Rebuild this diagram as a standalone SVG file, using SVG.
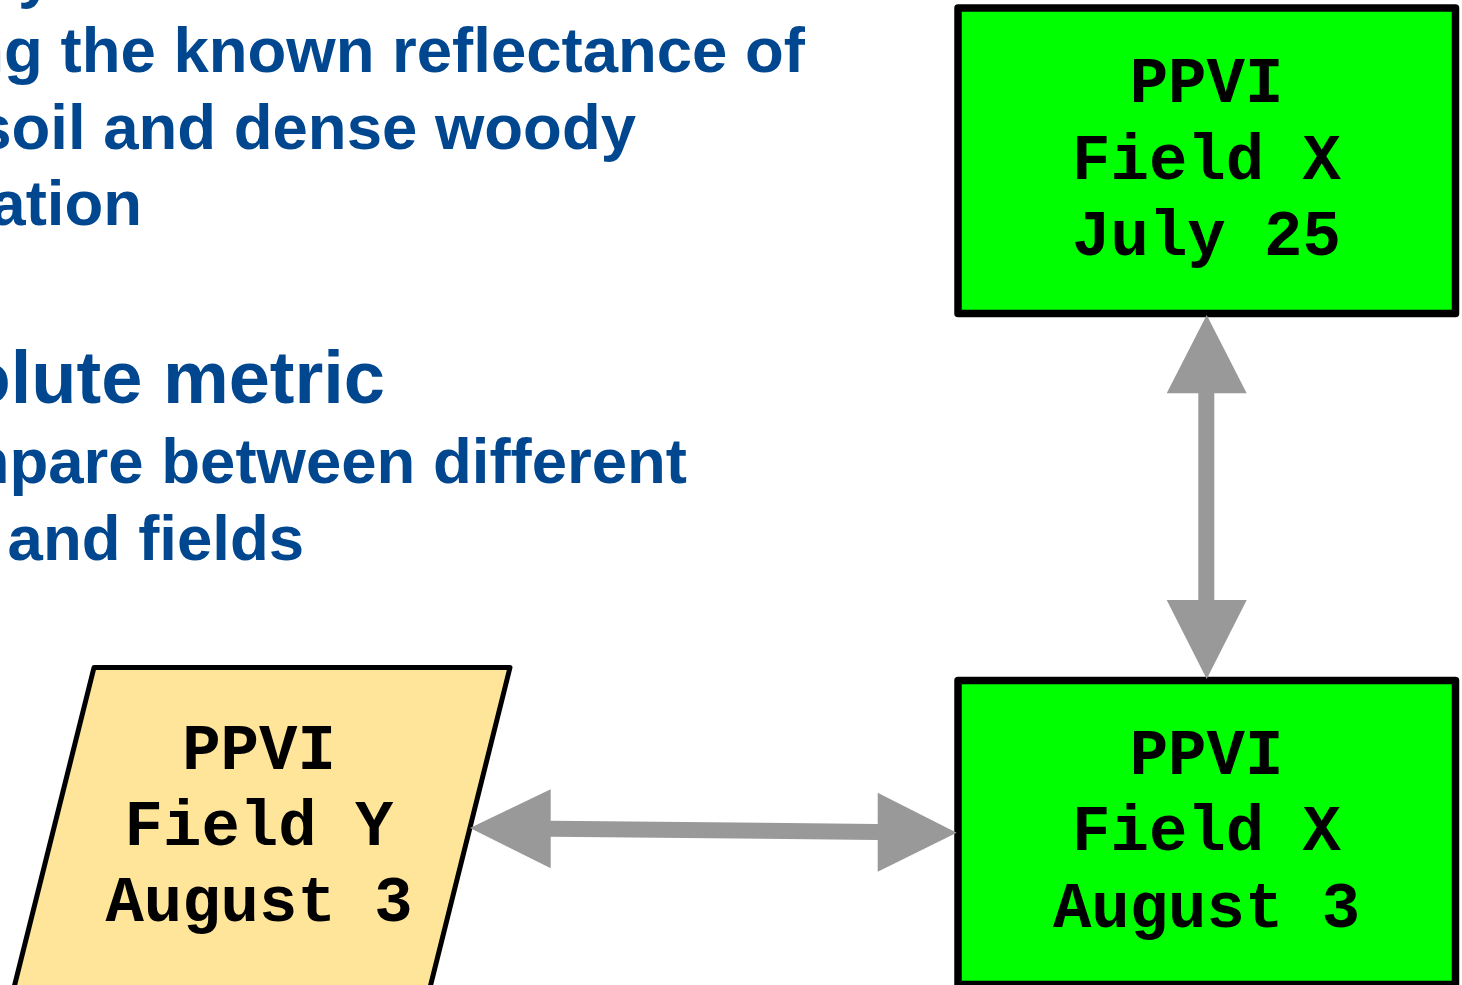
<svg xmlns="http://www.w3.org/2000/svg" width="1462" height="985" viewBox="0 0 1462 985">
  <style>
    .body { font-family: "Liberation Sans", Arial, sans-serif; font-weight: bold; fill: #00478F; }
    .lbl { font-family: "Liberation Mono", "Courier New", monospace; font-weight: bold; font-size: 64px; fill: #000000; text-anchor: middle; }
    .box { fill: #00FF00; stroke: #000000; stroke-width: 7.5; stroke-linejoin: round; }
    .para { fill: #FFE599; stroke: #000000; stroke-width: 5; stroke-linejoin: round; }
    .arrow { fill: #999999; stroke: none; }
  </style>
  <rect width="1462" height="985" fill="#FFFFFF"/>
  <g id="text-block">
    <text class="body" x="18" y="-4" font-size="63.5">y</text>
    <text class="body" x="805" y="72" font-size="63.5" text-anchor="end">ng the known reflectance of</text>
    <text class="body" x="636" y="148.5" font-size="63.5" text-anchor="end">soil and dense woody</text>
    <text class="body" x="142" y="225" font-size="63.5" text-anchor="end">ation</text>
    <text class="body" x="385" y="403" font-size="74" text-anchor="end">olute metric</text>
    <text class="body" x="687" y="483" font-size="63.5" text-anchor="end">mpare between different</text>
    <text class="body" x="304" y="560" font-size="63.5" text-anchor="end">and fields</text>
  </g>
  <g id="node-x-july25">
    <rect class="box" x="958" y="8" width="497.5" height="305.5"/>
    <text class="lbl" x="1206.5" y="102">PPVI</text>
    <text class="lbl" x="1206.5" y="178.5">Field X</text>
    <text class="lbl" x="1206.5" y="255">July 25</text>
  </g>
  <g id="node-x-aug3">
    <rect class="box" x="958" y="680.5" width="497.5" height="304"/>
    <text class="lbl" x="1206.5" y="773.5">PPVI</text>
    <text class="lbl" x="1206.5" y="850">Field X</text>
    <text class="lbl" x="1206.5" y="926.5">August 3</text>
  </g>
  <g id="node-y-aug3">
    <polygon class="para" points="94,667.5 510,667.5 424.4,1010 8.4,1010"/>
    <text class="lbl" x="259" y="768.5">PPVI</text>
    <text class="lbl" x="259" y="845">Field Y</text>
    <text class="lbl" x="259" y="921">August 3</text>
  </g>
  <g id="connectors">
    <polygon class="arrow" points="1206.7,315 1246.7,393.3 1214.3,393.3 1214.3,600 1246.7,600 1206.7,679 1166.7,600 1198.3,600 1198.3,393.3 1166.7,393.3"/>
    <polygon class="arrow" points="470,828 550.7,789.3 550.7,820.7 877.7,824 877.7,792.7 956.7,832.7 877.7,871.7 877.7,840 550.7,836.7 550.7,868.3"/>
  </g>
</svg>
